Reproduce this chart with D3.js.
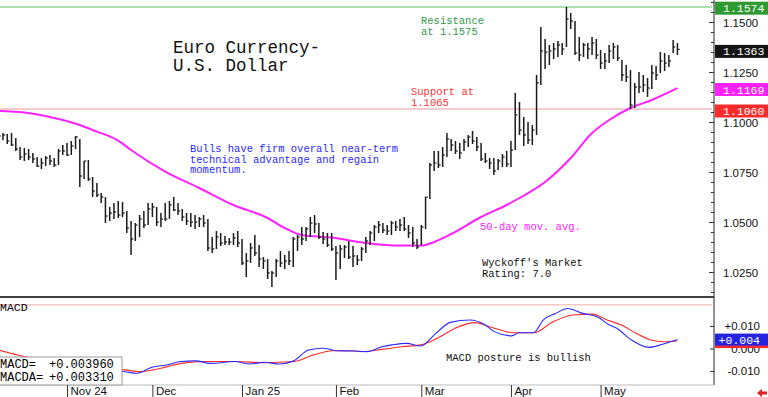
<!DOCTYPE html>
<meta charset="utf-8">
<style>
body { margin: 0; background: #fff; }
svg { display: block; font-family: "Liberation Mono", "DejaVu Sans Mono", monospace; }
.axis path.domain { display: none; }
.axis line { stroke: #333; }
</style>
<body>
<script src="https://d3js.org/d3.v7.min.js"></script>
<script>

// daily bars, one per trading day (high, low, close)
var highs = [1.0945,1.0945,1.0940,1.0945,1.0920,1.0875,1.0870,1.0865,1.0845,1.0825,
  1.0820,1.0830,1.0835,1.0820,1.0865,1.0885,1.0895,1.0905,1.0930,1.0915,
  1.0805,1.0810,1.0725,1.0695,1.0645,1.0625,1.0575,1.0595,1.0605,1.0600,
  1.0555,1.0505,1.0495,1.0535,1.0555,1.0595,1.0595,1.0575,1.0545,1.0595,
  1.0605,1.0625,1.0595,1.0565,1.0545,1.0545,1.0535,1.0525,1.0535,1.0515,
  1.0425,1.0455,1.0445,1.0430,1.0420,1.0445,1.0455,1.0415,1.0345,1.0395,
  1.0435,1.0385,1.0325,1.0315,1.0255,1.0315,1.0355,1.0335,1.0355,1.0425,
  1.0435,1.0475,1.0475,1.0525,1.0535,1.0495,1.0450,1.0445,1.0445,1.0380,
  1.0385,1.0385,1.0405,1.0380,1.0335,1.0375,1.0425,1.0455,1.0485,1.0505,
  1.0495,1.0485,1.0505,1.0505,1.0515,1.0525,1.0485,1.0475,1.0415,1.0485,
  1.0625,1.0795,1.0855,1.0855,1.0875,1.0945,1.0915,1.0905,1.0895,1.0915,
  1.0935,1.0955,1.0925,1.0895,1.0845,1.0820,1.0820,1.0815,1.0840,1.0855,
  1.0905,1.1145,1.1100,1.1025,1.1000,1.0985,1.1235,1.1475,1.1415,1.1385,
  1.1395,1.1405,1.1395,1.1575,1.1545,1.1505,1.1425,1.1395,1.1395,1.1425,
  1.1415,1.1360,1.1345,1.1385,1.1395,1.1385,1.1310,1.1285,1.1260,1.1195,
  1.1250,1.1235,1.1220,1.1285,1.1280,1.1350,1.1345,1.1335,1.1410,1.1395];
var lows = [1.0915,1.0910,1.0890,1.0880,1.0855,1.0810,1.0805,1.0810,1.0795,1.0775,
  1.0765,1.0780,1.0785,1.0775,1.0785,1.0835,1.0830,1.0835,1.0865,1.0675,
  1.0715,1.0705,1.0625,1.0625,1.0595,1.0495,1.0505,1.0515,1.0520,1.0525,
  1.0445,1.0335,1.0405,1.0425,1.0470,1.0485,1.0525,1.0480,1.0475,1.0505,
  1.0515,1.0555,1.0535,1.0505,1.0485,1.0475,1.0465,1.0475,1.0475,1.0355,
  1.0345,1.0365,1.0380,1.0385,1.0385,1.0385,1.0375,1.0285,1.0225,1.0295,
  1.0330,1.0275,1.0265,1.0215,1.0175,1.0225,1.0275,1.0265,1.0285,1.0275,
  1.0355,1.0385,1.0405,1.0425,1.0445,1.0415,1.0390,1.0375,1.0355,1.0210,
  1.0265,1.0320,1.0315,1.0275,1.0285,1.0305,1.0345,1.0385,1.0405,1.0445,
  1.0445,1.0435,1.0435,1.0455,1.0455,1.0455,1.0420,1.0375,1.0365,1.0385,
  1.0465,1.0615,1.0755,1.0770,1.0775,1.0825,1.0855,1.0840,1.0815,1.0855,
  1.0875,1.0890,1.0855,1.0805,1.0795,1.0765,1.0735,1.0760,1.0775,1.0775,
  1.0775,1.0860,1.0935,1.0880,1.0890,1.0885,1.0935,1.1185,1.1265,1.1285,
  1.1315,1.1325,1.1335,1.1375,1.1465,1.1335,1.1305,1.1325,1.1315,1.1335,
  1.1315,1.1265,1.1265,1.1295,1.1315,1.1305,1.1205,1.1200,1.1065,1.1070,
  1.1145,1.1150,1.1125,1.1165,1.1210,1.1245,1.1255,1.1275,1.1345,1.1335];
var closes = [1.0930,1.0935,1.0905,1.0885,1.0865,1.0825,1.0840,1.0825,1.0815,1.0780,
  1.0795,1.0820,1.0805,1.0785,1.0855,1.0855,1.0835,1.0880,1.0925,1.0730,
  1.0805,1.0715,1.0655,1.0635,1.0625,1.0530,1.0545,1.0550,1.0535,1.0545,
  1.0470,1.0415,1.0485,1.0515,1.0485,1.0565,1.0575,1.0500,1.0515,1.0515,
  1.0585,1.0560,1.0555,1.0525,1.0505,1.0500,1.0500,1.0515,1.0495,1.0370,
  1.0365,1.0425,1.0395,1.0400,1.0400,1.0420,1.0395,1.0295,1.0305,1.0370,
  1.0345,1.0315,1.0305,1.0245,1.0245,1.0305,1.0295,1.0305,1.0305,1.0415,
  1.0425,1.0415,1.0465,1.0495,1.0490,1.0425,1.0415,1.0385,1.0365,1.0345,
  1.0365,1.0375,1.0325,1.0330,1.0310,1.0365,1.0405,1.0445,1.0475,1.0485,
  1.0460,1.0455,1.0495,1.0475,1.0485,1.0465,1.0445,1.0395,1.0375,1.0475,
  1.0625,1.0785,1.0795,1.0785,1.0835,1.0915,1.0885,1.0855,1.0845,1.0900,
  1.0925,1.0905,1.0875,1.0815,1.0805,1.0795,1.0755,1.0805,1.0825,1.0790,
  1.0860,1.1035,1.0960,1.0935,1.0910,1.0960,1.1195,1.1355,1.1350,1.1355,
  1.1365,1.1385,1.1365,1.1515,1.1505,1.1345,1.1335,1.1385,1.1365,1.1395,
  1.1335,1.1295,1.1305,1.1355,1.1375,1.1320,1.1235,1.1225,1.1085,1.1175,
  1.1175,1.1185,1.1170,1.1245,1.1235,1.1305,1.1295,1.1305,1.1375,1.1363];

var monthIdx = [16, 36, 57, 79, 99, 120, 141];
var monthLabels = ["Nov 24", "Dec", "Jan 25", "Feb", "Mar", "Apr", "May"];

// 50-day moving average, read at a few bars
var maIdx = [0, 6, 12, 19, 22, 28, 31, 39, 47, 55, 63, 67, 71, 78, 86, 94, 99, 102, 106, 113, 119, 122, 128, 134, 139, 143, 148, 153, 159];
var maVal = [1.1055, 1.1047, 1.1025, 1.0985, 1.0960, 1.0907, 1.0860, 1.0752, 1.0670, 1.0585, 1.0520, 1.0470, 1.0435, 1.0422, 1.0395, 1.0382, 1.0382, 1.0400, 1.0440, 1.0525, 1.0585, 1.0620, 1.0700, 1.0820, 1.0945, 1.1010, 1.1070, 1.1110, 1.1169];

// MACD (blue) and its average MACDA (red)
var macdIdx = [0, 6, 12, 17.5, 22, 26, 29.6, 32.4, 35.9, 39.3, 42.7, 46.2, 49.6, 55.4, 58.8, 62.2, 65.7, 69.1, 72.6, 76, 79.4, 82.9, 86.3, 89.8, 92.1, 95.5, 98.9, 102.4, 105.8, 110.4, 113.8, 116.1, 120.2, 121.9, 125.3, 127.6, 130.5, 133.3, 136.8, 140.2, 143.1, 144.8, 148.2, 152.3, 155.7, 159];
var macdVal = [-0.0040, -0.0055, -0.0055, -0.0045, -0.0070, -0.0095, -0.0103, -0.0110, -0.0083, -0.0073, -0.0058, -0.0055, -0.0066, -0.0058, -0.0069, -0.0061, -0.0069, -0.0055, -0.0007, 0.0001, -0.0010, -0.0011, -0.0014, 0.0008, 0.0016, 0.0023, 0.0011, 0.0067, 0.0116, 0.0127, 0.0107, 0.0075, 0.0056, 0.0070, 0.0070, 0.0127, 0.0156, 0.0178, 0.0156, 0.0141, 0.0104, 0.0090, 0.0038, 0.0005, 0.0020, 0.0040];
var sigIdx = [0, 6, 12, 18, 24, 29.6, 33.2, 38, 42.7, 48.5, 55.4, 62.2, 69.1, 73.7, 78.3, 82.9, 85.2, 89.8, 94.4, 98.9, 103.5, 106.9, 111.5, 115, 120.7, 125.3, 129.9, 134.5, 139.1, 142.5, 145.9, 149.4, 152.8, 155.7, 159];
var sigVal = [-0.0007, -0.0036, -0.0055, -0.0065, -0.0085, -0.0095, -0.0103, -0.0088, -0.0066, -0.0058, -0.0058, -0.0063, -0.0058, -0.0029, -0.0010, -0.0010, -0.0014, -0.0004, 0.0008, 0.0016, 0.0053, 0.0090, 0.0115, 0.0097, 0.0070, 0.0070, 0.0119, 0.0149, 0.0153, 0.0127, 0.0104, 0.0067, 0.0038, 0.0030, 0.0033];

var resistance = 1.1575, support = 1.1065;
var macdRef = 0.0195;
var lastClose = 1.1363, lastMA = 1.1169, resLabel = 1.1574, supLabel = 1.1060;
var lastMacd = 0.003960, lastMacda = 0.003310;

var width = 768, height = 397, plotW = 712, axisX = 714;
var priceBottom = 297, macdTop = 299, macdBottom = 385;

var svg = d3.select("body").append("svg")
    .attr("width", width)
    .attr("height", height);

var x = d3.scaleLinear().domain([0.3, 167.1]).range([0, plotW]);
var y = d3.scaleLinear().domain([1.1, 1.025]).range([122, 272]);
var ym = d3.scaleLinear().domain([0.01, -0.01]).range([326, 371]);

var defs = svg.append("defs");
defs.append("clipPath").attr("id", "clipP")
  .append("rect").attr("x", 0).attr("y", 0).attr("width", plotW).attr("height", priceBottom);
defs.append("clipPath").attr("id", "clipM")
  .append("rect").attr("x", 0).attr("y", macdTop).attr("width", plotW).attr("height", macdBottom - macdTop);

var price = svg.append("g").attr("clip-path", "url(#clipP)");

// resistance / support lines
price.append("line")
    .attr("x1", 0).attr("x2", axisX)
    .attr("y1", y(resistance)).attr("y2", y(resistance))
    .attr("stroke", "#95d595").attr("stroke-width", 1.5);
price.append("line")
    .attr("x1", 0).attr("x2", axisX)
    .attr("y1", y(support)).attr("y2", y(support))
    .attr("stroke", "#f29a9a").attr("stroke-width", 1.2);

// moving average
var maData = maIdx.map(function(d, i) { return {i: d, v: maVal[i]}; });
var lineP = d3.line()
    .x(function(d) { return x(d.i); })
    .y(function(d) { return y(d.v); })
    .curve(d3.curveMonotoneX);
price.append("path")
    .datum(maData)
    .attr("fill", "none")
    .attr("stroke", "#ff22ff")
    .attr("stroke-width", 2)
    .attr("d", lineP);

// bars
var bars = highs.map(function(h, i) { return {i: i, h: h, l: lows[i], c: closes[i]}; });
var bg = price.append("g").attr("stroke", "#1a1a1a");
bg.selectAll(".hl")
    .data(bars)
  .enter().append("line")
    .attr("x1", function(d) { return x(d.i); })
    .attr("x2", function(d) { return x(d.i); })
    .attr("y1", function(d) { return y(d.h); })
    .attr("y2", function(d) { return y(d.l); })
    .attr("stroke-width", 1.5);
bg.selectAll(".cl")
    .data(bars)
  .enter().append("line")
    .attr("x1", function(d) { return x(d.i); })
    .attr("x2", function(d) { return x(d.i) + 2.2; })
    .attr("y1", function(d) { return y(d.c); })
    .attr("y2", function(d) { return y(d.c); })
    .attr("stroke-width", 1.2);

// panel frame lines
svg.append("line").attr("x1", 0).attr("x2", axisX).attr("y1", priceBottom).attr("y2", priceBottom)
    .attr("stroke", "#000").attr("stroke-width", 1.5);
svg.append("line").attr("x1", axisX).attr("x2", axisX).attr("y1", 0).attr("y2", macdBottom)
    .attr("stroke", "#222").attr("stroke-width", 1);
svg.append("line").attr("x1", 0).attr("x2", axisX).attr("y1", macdBottom).attr("y2", macdBottom)
    .attr("stroke", "#bbb").attr("stroke-width", 1);

// price axis on right
var minorP = d3.range(1.015, 1.16, 0.005);
svg.append("g").attr("class", "axis")
    .attr("transform", "translate(" + axisX + ",0)")
    .call(d3.axisRight(y).tickValues(minorP.filter(function(d) { return y(d) > 2 && y(d) < priceBottom - 2; }))
      .tickSize(-3).tickFormat(""));
var pAxis = svg.append("g").attr("class", "axis")
    .attr("transform", "translate(" + axisX + ",0)")
    .call(d3.axisRight(y).tickValues([1.025, 1.05, 1.075, 1.1, 1.125, 1.15])
      .tickSize(-5).tickPadding(9).tickFormat(d3.format(".4f")));
pAxis.selectAll("text").style("font-size", "11.5px").attr("fill", "#111").attr("dy", "0.42em");

function badge(yv, fill, label, color) {
  var g = svg.append("g");
  g.append("rect").attr("x", axisX + 1).attr("y", yv - 6).attr("width", width - axisX - 1).attr("height", 13)
    .attr("fill", fill);
  g.append("text").attr("x", 723).attr("y", yv + 4.5)
    .attr("fill", color).style("font-size", "11.5px").text(label);
}
badge(y(resLabel) + 0.5, "#2f9a2f", d3.format(".4f")(resLabel), "#fff");
badge(y(lastClose) + 1.5, "#151515", d3.format(".4f")(lastClose), "#fff");
badge(y(lastMA) + 0.8, "#ff22ff", d3.format(".4f")(lastMA), "#fff");
badge(y(supLabel) + 0.5, "#ff2a2a", d3.format(".4f")(supLabel), "#fff");

// MACD panel
var macdG = svg.append("g").attr("clip-path", "url(#clipM)");
macdG.append("line")
    .attr("x1", 0).attr("x2", plotW)
    .attr("y1", ym(macdRef)).attr("y2", ym(macdRef))
    .attr("stroke", "#f7c6c6").attr("stroke-width", 1.5);
var lineM = d3.line()
    .x(function(d) { return x(d.i); })
    .y(function(d) { return ym(d.v); })
    .curve(d3.curveMonotoneX);
macdG.append("path")
    .datum(sigIdx.map(function(d, i) { return {i: d, v: sigVal[i]}; }))
    .attr("fill", "none").attr("stroke", "#ff2a2a").attr("stroke-width", 1.1)
    .attr("d", lineM);
macdG.append("path")
    .datum(macdIdx.map(function(d, i) { return {i: d, v: macdVal[i]}; }))
    .attr("fill", "none").attr("stroke", "#2a2aff").attr("stroke-width", 1.1)
    .attr("d", lineM);

var mTicks = [0.01, 0, -0.01];
var mAxis = svg.append("g").attr("class", "axis")
    .attr("transform", "translate(" + axisX + ",0)")
    .call(d3.axisRight(ym).tickValues(mTicks).tickSize(-4)
      .tickFormat(function(d) { return d === 0 ? "0.000" : (d > 0 ? "+" : "-") + Math.abs(d).toFixed(3); }));
mAxis.selectAll("text").attr("x", 46).attr("text-anchor", "end").style("font-size", "11.5px").attr("fill", "#111");

// MACD value boxes
svg.append("rect").attr("x", axisX + 1).attr("y", ym(lastMacda) - 6).attr("width", width - axisX - 1).attr("height", 13)
    .attr("fill", "#ff2a2a");
svg.append("rect").attr("x", axisX + 1).attr("y", ym(lastMacd) - 6).attr("width", width - axisX - 1).attr("height", 12)
    .attr("fill", "#2424e0");
svg.append("text").attr("x", 760).attr("y", ym(lastMacd) + 4.5).attr("text-anchor", "end")
    .attr("fill", "#fff").style("font-size", "11.5px").text("+" + lastMacd.toFixed(3));

// legend box
svg.append("rect").attr("x", -1).attr("y", 357).attr("width", 123).attr("height", 28)
    .attr("fill", "#fff").attr("stroke", "#999");
svg.append("text").attr("x", 0).attr("y", 368).style("font-size", "12px").text("MACD=");
svg.append("text").attr("x", 49).attr("y", 368).style("font-size", "12px").text("+" + lastMacd.toFixed(6));
svg.append("text").attr("x", 0).attr("y", 380.5).style("font-size", "12px").text("MACDA=");
svg.append("text").attr("x", 49).attr("y", 380.5).style("font-size", "12px").text("+" + lastMacda.toFixed(6));
svg.append("text").attr("x", 0).attr("y", 311).style("font-size", "11.5px").text("MACD");

// month axis
var xAxis = svg.append("g").attr("class", "axis")
    .attr("transform", "translate(0," + macdBottom + ")")
    .call(d3.axisBottom(x).tickValues(monthIdx).tickSize(12)
      .tickFormat(function(d, i) { return monthLabels[i]; }));
xAxis.selectAll("text")
    .attr("x", 3).attr("y", 2).attr("dy", "0.71em")
    .attr("text-anchor", "start").style("font-size", "11.5px").attr("fill", "#111");

// red arrow in corner
svg.append("path").attr("d", "M757,393 L762,389 L762,391.5 L767,391.5 L767,394.5 L762,394.5 L762,397 Z")
    .attr("fill", "#e02020");

// notes
function note(xp, yp, lines, color, size) {
  var t = svg.append("text").attr("fill", color).style("font-size", size + "px");
  lines.forEach(function(s, k) {
    t.append("tspan").attr("x", xp).attr("y", yp + k * size * 1.0).text(s);
  });
}
note(173, 53, ["Euro Currency-", "U.S. Dollar"], "#111", 17.5);
note(421, 24, ["Resistance", "at 1.1575"], "#2f9a4a", 10.5);
note(411, 95, ["Support at", "1.1065"], "#ff3333", 10.5);
note(190, 152, ["Bulls have firm overall near-term", "technical advantage and regain", "momentum."], "#2a2aff", 10.5);
note(480, 230, ["50-day mov. avg."], "#ff22ff", 10.5);
note(482, 266, ["Wyckoff's Market", "Rating: 7.0"], "#111", 10.5);
note(446, 361, ["MACD posture is bullish"], "#111", 10.5);

</script>
